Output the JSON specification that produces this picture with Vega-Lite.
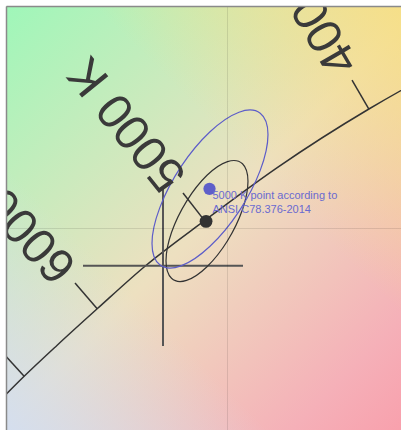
{
  "$schema": "https://vega.github.io/schema/vega-lite/v6.json",
  "width": 442,
  "height": 444,
  "autosize": {"type": "none"},
  "padding": {"left": 6, "top": 6, "right": 0, "bottom": 0},
  "background": "white",
  "config": {"view": {"stroke": null}},
  "datasets": {
    "region": [{"x": 0.3025, "y": 0.30, "x2": 0.3975, "y2": 0.40}],
    "locus": [
      {"T": 8000, "x": 0.2952, "y": 0.3048},
      {"T": 7500, "x": 0.3004, "y": 0.3103},
      {"T": 7000, "x": 0.3064, "y": 0.3166},
      {"T": 6500, "x": 0.3135, "y": 0.3236},
      {"T": 6000, "x": 0.3221, "y": 0.3318},
      {"T": 5500, "x": 0.3325, "y": 0.3415},
      {"T": 5000, "x": 0.3451, "y": 0.3516},
      {"T": 4500, "x": 0.3608, "y": 0.3636},
      {"T": 4000, "x": 0.3805, "y": 0.3768},
      {"T": 3500, "x": 0.4053, "y": 0.3907},
      {"T": 3000, "x": 0.4369, "y": 0.4041}
    ],
    "iso": [
      {"T": 4000, "label": "4000 K", "x": 0.3805, "y": 0.3768, "x2": 0.37687, "y2": 0.38333},
      {"T": 5000, "label": "5000 K", "x": 0.3453, "y": 0.3515, "x2": 0.34054, "y2": 0.35788},
      {"T": 6000, "label": "6000 K", "x": 0.3221, "y": 0.3318, "x2": 0.31733, "y2": 0.33761},
      {"T": 7000, "label": "7000 K", "x": 0.3064, "y": 0.3166, "x2": 0.30143, "y2": 0.32230}
    ],
    "cross": [
      {"x": 0.31905, "x2": 0.35344, "y": 0.34151, "y2": 0.34151},
      {"x": 0.33624, "x2": 0.33624, "y": 0.35946, "y2": 0.32342}
    ],
    "ellipses": [
      {"name": "ANSI", "i": 1, "x": 0.35881, "y": 0.37106},
      {"name": "ANSI", "i": 2, "x": 0.35714, "y": 0.37586},
      {"name": "ANSI", "i": 3, "x": 0.35258, "y": 0.37608},
      {"name": "ANSI", "i": 4, "x": 0.34635, "y": 0.37167},
      {"name": "ANSI", "i": 5, "x": 0.34011, "y": 0.36381},
      {"name": "ANSI", "i": 6, "x": 0.33556, "y": 0.35459},
      {"name": "ANSI", "i": 7, "x": 0.33388, "y": 0.34651},
      {"name": "ANSI", "i": 8, "x": 0.33556, "y": 0.34171},
      {"name": "ANSI", "i": 9, "x": 0.34011, "y": 0.34148},
      {"name": "ANSI", "i": 10, "x": 0.34635, "y": 0.34590},
      {"name": "ANSI", "i": 11, "x": 0.35258, "y": 0.35376},
      {"name": "ANSI", "i": 12, "x": 0.35714, "y": 0.36297},
      {"name": "Planck", "i": 1, "x": 0.35451, "y": 0.36052},
      {"name": "Planck", "i": 2, "x": 0.35333, "y": 0.36446},
      {"name": "Planck", "i": 3, "x": 0.35011, "y": 0.36495},
      {"name": "Planck", "i": 4, "x": 0.34570, "y": 0.36187},
      {"name": "Planck", "i": 5, "x": 0.34130, "y": 0.35601},
      {"name": "Planck", "i": 6, "x": 0.33807, "y": 0.34899},
      {"name": "Planck", "i": 7, "x": 0.33689, "y": 0.34263},
      {"name": "Planck", "i": 8, "x": 0.33807, "y": 0.33869},
      {"name": "Planck", "i": 9, "x": 0.34130, "y": 0.33820},
      {"name": "Planck", "i": 10, "x": 0.34570, "y": 0.34128},
      {"name": "Planck", "i": 11, "x": 0.35011, "y": 0.34714},
      {"name": "Planck", "i": 12, "x": 0.35333, "y": 0.35417}
    ],
    "centers": [
      {"name": "Planck", "x": 0.3455, "y": 0.3515, "note": ""},
      {"name": "ANSI", "x": 0.34624, "y": 0.35883, "note": "5000 K point according to\nANSI C78.376-2014"}
    ]
  },
  "encoding": {
    "x": {
      "field": "x", "type": "quantitative",
      "scale": {"domain": [0.3025, 0.3975], "nice": false, "zero": false},
      "axis": {"orient": "top", "values": [0.35], "labels": false, "ticks": false, "title": null,
               "domain": true, "domainColor": "#8a8a8a", "domainWidth": 1.5,
               "grid": true, "gridColor": "#000", "gridOpacity": 0.1, "zindex": 1}
    },
    "y": {
      "field": "y", "type": "quantitative",
      "scale": {"domain": [0.30, 0.40], "nice": false, "zero": false},
      "axis": {"orient": "left", "values": [0.35], "labels": false, "ticks": false, "title": null,
               "domain": true, "domainColor": "#8a8a8a", "domainWidth": 1.5,
               "grid": true, "gridColor": "#000", "gridOpacity": 0.1, "zindex": 1}
    }
  },
  "layer": [
    {
      "data": {"name": "region"},
      "mark": {"type": "rect", "clip": true,
        "fill": {"gradient": "linear", "x1": 0, "y1": 0, "x2": 1, "y2": 1,
          "stops": [
            {"offset": 0, "color": "#9ff7b9"},
            {"offset": 0.47, "color": "#ede0c0"},
            {"offset": 0.8, "color": "#f5b0b8"},
            {"offset": 1, "color": "#fa97a6"}
          ]}},
      "encoding": {"x2": {"field": "x2"}, "y2": {"field": "y2"}}
    },
    {
      "data": {"name": "region"},
      "mark": {"type": "rect", "clip": true,
        "fill": {"gradient": "linear", "x1": 1, "y1": 0, "x2": 0, "y2": 1,
          "stops": [
            {"offset": 0, "color": "rgba(248,223,128,1)"},
            {"offset": 0.4, "color": "rgba(248,223,128,0)"},
            {"offset": 0.68, "color": "rgba(210,222,242,0)"},
            {"offset": 1, "color": "rgba(210,222,242,1)"}
          ]}},
      "encoding": {"x2": {"field": "x2"}, "y2": {"field": "y2"}}
    },
    {
      "data": {"name": "locus"},
      "mark": {"type": "line", "clip": true, "interpolate": "monotone", "stroke": "#333", "strokeWidth": 1.5},
      "encoding": {}
    },
    {
      "data": {"name": "iso"},
      "mark": {"type": "rule", "clip": true, "stroke": "#333", "strokeWidth": 1.5},
      "encoding": {"x2": {"field": "x2"}, "y2": {"field": "y2"}}
    },
    {
      "data": {"name": "cross"},
      "mark": {"type": "rule", "clip": true, "stroke": "#555", "strokeWidth": 2},
      "encoding": {"x2": {"field": "x2"}, "y2": {"field": "y2"}}
    },
    {
      "data": {"name": "ellipses"},
      "transform": [{"filter": "datum.name === 'Planck'"}],
      "mark": {"type": "line", "interpolate": "cardinal-closed", "stroke": "#333", "strokeWidth": 1.2},
      "encoding": {"order": {"field": "i", "type": "quantitative"}}
    },
    {
      "data": {"name": "ellipses"},
      "transform": [{"filter": "datum.name === 'ANSI'"}],
      "mark": {"type": "line", "interpolate": "cardinal-closed", "stroke": "#5c5cc9", "strokeWidth": 1.2},
      "encoding": {"order": {"field": "i", "type": "quantitative"}}
    },
    {
      "data": {"name": "centers"},
      "transform": [{"filter": "datum.name === 'Planck'"}],
      "mark": {"type": "point", "filled": true, "size": 165, "fill": "#333", "opacity": 1},
      "encoding": {}
    },
    {
      "data": {"name": "centers"},
      "transform": [{"filter": "datum.name === 'ANSI'"}],
      "mark": {"type": "point", "filled": true, "size": 150, "fill": "#5f5fc9", "opacity": 1},
      "encoding": {}
    },
    {
      "data": {"name": "centers"},
      "transform": [{"filter": "datum.name === 'ANSI'"}],
      "mark": {"type": "text", "align": "left", "baseline": "top", "dx": 3, "dy": 1, "lineBreak": "\n", "lineHeight": 14,
               "font": "Liberation Sans", "fontSize": 11, "fill": "#6a6ad0"},
      "encoding": {"text": {"field": "note"}}
    },
    {
      "data": {"name": "iso"},
      "transform": [{"filter": "datum.T === 4000"}],
      "mark": {"type": "text", "clip": true, "align": "left", "baseline": "middle", "angle": 239.6, "dx": 11,
               "font": "Liberation Sans", "fontSize": 49, "fill": "#3a3a3a"},
      "encoding": {"x": {"field": "x2", "type": "quantitative"}, "y": {"field": "y2", "type": "quantitative"}, "text": {"field": "label"}}
    },
    {
      "data": {"name": "iso"},
      "transform": [{"filter": "datum.T === 5000"}],
      "mark": {"type": "text", "clip": true, "align": "left", "baseline": "middle", "angle": 231.1, "dx": 11,
               "font": "Liberation Sans", "fontSize": 49, "fill": "#3a3a3a"},
      "encoding": {"x": {"field": "x2", "type": "quantitative"}, "y": {"field": "y2", "type": "quantitative"}, "text": {"field": "label"}}
    },
    {
      "data": {"name": "iso"},
      "transform": [{"filter": "datum.T === 6000"}],
      "mark": {"type": "text", "clip": true, "align": "left", "baseline": "middle", "angle": 227.4, "dx": 11,
               "font": "Liberation Sans", "fontSize": 49, "fill": "#3a3a3a"},
      "encoding": {"x": {"field": "x2", "type": "quantitative"}, "y": {"field": "y2", "type": "quantitative"}, "text": {"field": "label"}}
    },
    {
      "data": {"name": "iso"},
      "transform": [{"filter": "datum.T === 7000"}],
      "mark": {"type": "text", "clip": true, "align": "left", "baseline": "middle", "angle": 227.4, "dx": 11,
               "font": "Liberation Sans", "fontSize": 49, "fill": "#3a3a3a"},
      "encoding": {"x": {"field": "x2", "type": "quantitative"}, "y": {"field": "y2", "type": "quantitative"}, "text": {"field": "label"}}
    }
  ]
}
